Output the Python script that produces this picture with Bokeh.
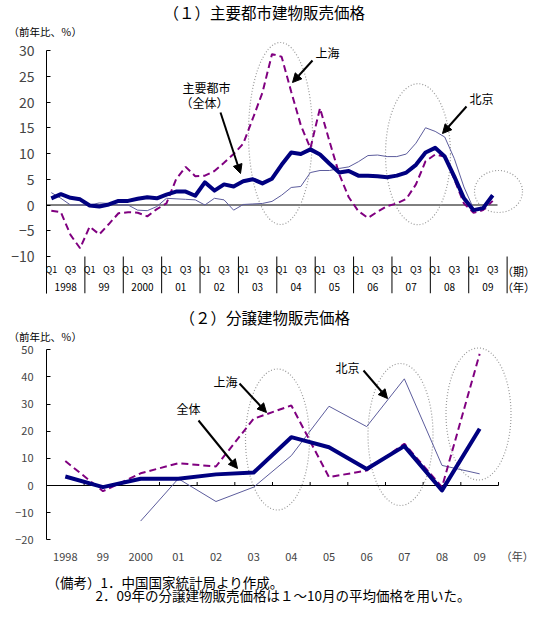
from bokeh.plotting import figure
from bokeh.models import Range1d, FixedTicker, Label, Arrow, NormalHead, Title
from bokeh.layouts import column
from bokeh.embed import file_html
from bokeh.resources import INLINE
from bokeh.core.properties import value

FONT = "Noto Sans CJK JP"
NAVY = "#000080"
PURPLE = "#800080"
SLATE = "#5c5c9c"
ELL = "#9a9a9a"
W = 558
FRAME_L, FRAME_R = 46, 530   # page x of the plot frames (shared by every strip)

# ---------------- data: (1) quarterly, y/y % ----------------
year_labels = ["1998", "99", "2000", "01", "02", "03", "04", "05", "06", "07", "08", "09"]
quarter_labels = ["Q1", "Q3"]
total_q = [1.3, 2.1, 1.4, 1.1,
           -0.1, -0.3, 0.1, 0.8,
           0.8, 1.2, 1.5, 1.3,
           2.0, 2.6, 2.6, 1.8,
           4.4, 2.8, 4.0, 3.6,
           4.6, 5.0, 4.2, 5.1,
           7.8, 10.2, 9.9, 10.8,
           9.8, 8.0, 6.3, 6.6,
           5.7, 5.7, 5.6, 5.4,
           5.7, 6.3, 7.8, 10.2,
           11.1, 9.4, 5.5, 1.3,
           -1.0, -0.6, 1.9]
shanghai_q = [-1.1, -1.4, -5.8, -8.4,
              -4.2, -5.7, -3.7, -1.6,
              -1.4, -1.5, -2.2, -0.8,
              0.3, 5.0, 7.4, 5.6,
              5.7, 6.6, 8.2, 9.9,
              11.9, 16.8, 21.8, 29.3,
              28.8, 22.0, 15.5, 11.0,
              18.8, 12.3, 6.0, 1.5,
              -1.2, -2.5, -1.3, -0.2,
              0.3, 1.2, 4.0, 8.5,
              9.8, 9.4, 5.0, 0.3,
              -1.5, -1.0, 0.8]
beijing_q = [2.4, 1.3, 0.0, 0.0,
             0.0, 0.4, 0.3, 0.0,
             0.0, -1.0, -1.1, -0.3,
             1.3, 1.2, 1.1, 1.0,
             0.0, 1.3, 1.0, -1.0,
             0.1, 0.2, 0.3, 0.7,
             1.9, 3.4, 3.6, 6.3,
             6.7, 6.7, 7.1, 7.4,
             8.4, 9.6, 9.7, 9.4,
             9.4, 9.9, 12.0, 15.0,
             14.3, 13.2, 9.0, 3.5,
             -0.7, -0.7, 1.9]
yticks_1 = [-10, -5, 0, 5, 10, 15, 20, 25, 30]

# ---------------- data: (2) annual, y/y % ----------------
total_a = [3.3, -0.6, 2.5, 2.5, 4.1, 4.8, 17.8, 14.1, 6.1, 14.5, -1.8, 20.9]
shanghai_a = [9.0, -2.1, 4.5, 8.2, 7.0, 24.6, 29.5, 3.1, 5.5, 15.4, -0.6, 48.5]
beijing_a = [float("nan"), float("nan"), -13.1, 2.5, -5.9, -0.6, 11.0, 29.2, 21.7, 39.3, 7.4, 4.3]
yticks_2 = [-20, -10, 0, 10, 20, 30, 40, 50]

# ---------------- pixel helpers (reference layout, page coords) ----------------
X0_1, DX_1, Y0_1, PY_1 = 50.8, 9.596, 204.5, 5.15
def fx1(px): return (px - X0_1) / DX_1
def fy1(py): return (Y0_1 - py) / PY_1
def fw1(w): return w / DX_1
def fh1(h): return h / PY_1

X0_2, DX_2, Y0_2, PY_2 = 64.8, 37.67, 485.0, 2.714
def fx2(px): return (px - X0_2) / DX_2
def fy2(py): return (Y0_2 - py) / PY_2
def fw2(w): return w / DX_2
def fh2(h): return h / PY_2


def txt_label(p, x, y, text, size, align="center", baseline="middle"):
    p.add_layout(Label(x=x, y=y, text=text, text_font=FONT, text_font_size=size,
                       text_align=align, text_baseline=baseline, text_color="black"))


def unit_title(p, text, left_px):
    p.add_layout(Title(text=text, align="left", offset=left_px - FRAME_L, standoff=0,
                       vertical_align="top", text_font=FONT, text_font_size="10.5px",
                       text_font_style="normal", text_color="black"), "above")


def arrow(p, x0, y0, x1, y1):
    p.add_layout(Arrow(end=NormalHead(size=9, fill_color="black", line_color="black", line_width=1),
                       x_start=x0, y_start=y0, x_end=x1, y_end=y1,
                       line_color="black", line_width=2))


def base_style(p):
    p.outline_line_color = None
    p.xgrid.visible = False
    p.ygrid.visible = False
    p.background_fill_color = "white"
    p.border_fill_color = "white"


def text_fig(top, bottom):
    """A strip of the page (page pixel coordinates) holding header / note texts."""
    p = figure(width=W, height=bottom - top, output_backend="svg", toolbar_location=None,
               x_range=Range1d(FRAME_L, FRAME_R), y_range=Range1d(bottom, top),
               x_axis_location=None, y_axis_location=None,
               min_border_left=FRAME_L, min_border_right=W - FRAME_R,
               min_border_top=0, min_border_bottom=0)
    base_style(p)
    return p


# ======================= chart 1 header =======================
H1 = 22
h1 = text_fig(0, H1)
txt_label(h1, 163, H1 / 2, "（１）主要都市建物販売価格", "15.5px", align="left")

# ======================= chart 1 =======================
nq = len(total_q)
qx = list(range(nq))
P1_FRAME_TOP = 40
p1 = figure(width=W, height=300 - H1, output_backend="svg", toolbar_location=None,
            x_range=Range1d(fx1(FRAME_L), fx1(FRAME_R)), y_range=Range1d(fy1(293), fy1(P1_FRAME_TOP)),
            x_axis_location=None, min_border_left=FRAME_L, min_border_right=W - FRAME_R,
            min_border_top=P1_FRAME_TOP - H1, min_border_bottom=7)
base_style(p1)
unit_title(p1, "（前年比、％）", 8)
ya = p1.yaxis[0]
ya.ticker = FixedTicker(ticks=yticks_1)
ya.bounds = (fy1(293), 30)
ya.major_tick_in = 4
ya.major_tick_out = 0
ya.minor_tick_line_color = None
ya.major_label_standoff = 12
ya.major_label_text_font = FONT
ya.major_label_text_font_size = "14px"
ya.axis_line_color = "black"

p1.line([-0.5, nq - 0.5], [0, 0], line_color="black", line_width=1)

nyears = len(year_labels)
sep_x = [-0.5 + 4 * k for k in range(nyears + 1)]
p1.segment(x0=sep_x, y0=[-10] * len(sep_x), x1=sep_x, y1=[fy1(293)] * len(sep_x),
           line_color="black", line_width=1)
qlx, qlt = [], []
for k in range(nyears):
    for j, ql in enumerate(quarter_labels):
        qi = 4 * k + 2 * j
        if qi < nq:
            qlx.append(qi)
            qlt.append(ql)
p1.text(x=qlx, y=[fy1(268.5)] * len(qlx), text=qlt, text_font=value(FONT),
        text_font_size="9px", text_align="center", text_baseline="middle")
p1.text(x=[4 * k + 1.5 for k in range(nyears)], y=[fy1(286.5)] * nyears, text=year_labels,
        text_font=value(FONT), text_font_size="10px", text_align="center", text_baseline="middle")

p1.ellipse(x=[fx1(280), fx1(417.5), fx1(498)], y=[fy1(133), fy1(153.7), fy1(191)],
           width=[fw1(64), fw1(65), fw1(48)], height=[fh1(182), fh1(141), fh1(42)],
           fill_color=None, line_color=ELL, line_dash="1 2", line_width=1.2)

p1.line(qx, beijing_q, line_color=SLATE, line_width=1)
p1.line(qx, shanghai_q, line_color=PURPLE, line_width=2, line_dash="7 4")
p1.line(qx, total_q, line_color=NAVY, line_width=4, line_join="round")

txt_label(p1, fx1(518), fy1(270), "（期）", "11px")
txt_label(p1, fx1(518), fy1(286), "（年）", "11px")
txt_label(p1, fx1(206), fy1(87), "主要都市", "12px")
txt_label(p1, fx1(204), fy1(102), "（全体）", "12px")
txt_label(p1, fx1(327), fy1(52), "上海", "12px")
txt_label(p1, fx1(481), fy1(98), "北京", "12px")
arrow(p1, fx1(220), fy1(112), fx1(240), fy1(173))
arrow(p1, fx1(312), fy1(60), fx1(292), fy1(82))
arrow(p1, fx1(466), fy1(106), fx1(442), fy1(133))

# ======================= chart 2 header =======================
H2_TOP, H2_BOT = 300, 328
h2 = text_fig(H2_TOP, H2_BOT)
txt_label(h2, 179, (H2_TOP + H2_BOT) / 2 + 2.5, "（２）分譲建物販売価格", "15.5px", align="left")

# ======================= chart 2 =======================
na = len(total_a)
ax = list(range(na))
P2_FRAME_TOP = 345
p2 = figure(width=W, height=570 - H2_BOT, output_backend="svg", toolbar_location=None,
            x_range=Range1d(fx2(FRAME_L), fx2(FRAME_R)), y_range=Range1d(fy2(540), fy2(P2_FRAME_TOP)),
            min_border_left=FRAME_L, min_border_right=W - FRAME_R,
            min_border_top=P2_FRAME_TOP - H2_BOT, min_border_bottom=30)
base_style(p2)
unit_title(p2, "（前年比、％）", 8)
ya2 = p2.yaxis[0]
ya2.ticker = FixedTicker(ticks=yticks_2)
ya2.bounds = (-20, 50)
ya2.major_tick_in = 4
ya2.major_tick_out = 0
ya2.minor_tick_line_color = None
ya2.major_label_standoff = 13
ya2.major_label_text_font = FONT
ya2.major_label_text_font_size = "11px"
ya2.axis_line_color = "black"

year_unit_pos = na  # the "（年）" unit label sits one slot after the last year
xa2 = p2.xaxis[0]
xa2.ticker = FixedTicker(ticks=ax + [year_unit_pos])
overrides = {i: year_labels[i] for i in ax}
overrides[year_unit_pos] = "（年）"
xa2.major_label_overrides = overrides
xa2.axis_line_color = None
xa2.major_tick_line_color = None
xa2.minor_tick_line_color = None
xa2.major_label_standoff = 1
xa2.major_label_text_font = FONT
xa2.major_label_text_font_size = "11px"

p2.line([-0.5, na - 0.5], [0, 0], line_color="black", line_width=1)
tb = [-0.5 + k for k in range(1, na + 1)]
p2.segment(x0=tb, y0=[0] * len(tb), x1=tb, y1=[fh2(3.5)] * len(tb), line_color="black", line_width=1)

p2.ellipse(x=[fx2(277), fx2(400), fx2(478)], y=[fy2(439), fy2(434), fy2(413.5)],
           width=[fw2(64), fw2(65), fw2(65)], height=[fh2(141), fh2(142), fh2(132)],
           fill_color=None, line_color=ELL, line_dash="1 2", line_width=1.2)

p2.line(ax, beijing_a, line_color=SLATE, line_width=1)
p2.line(ax, shanghai_a, line_color=PURPLE, line_width=2, line_dash="7 4")
p2.line(ax, total_a, line_color=NAVY, line_width=4, line_join="round")

txt_label(p2, fx2(225), fy2(381), "上海", "12px")
txt_label(p2, fx2(188), fy2(408), "全体", "12px")
txt_label(p2, fx2(347), fy2(367), "北京", "12px")
arrow(p2, fx2(239), fy2(383), fx2(266), fy2(412))
arrow(p2, fx2(198), fy2(420), fx2(237), fy2(468))
arrow(p2, fx2(363), fy2(370), fx2(387), fy2(398))

# ======================= notes =======================
n3 = text_fig(570, 619)
txt_label(n3, 46, 581, "（備考）1．中国国家統計局より作成。", "13.5px", align="left")
txt_label(n3, 95, 594, "2．09年の分譲建物販売価格は１～10月の平均価格を用いた。", "13.5px", align="left")

layout = column(h1, p1, h2, p2, n3)
open("out.html", "w").write(file_html(layout, INLINE))
